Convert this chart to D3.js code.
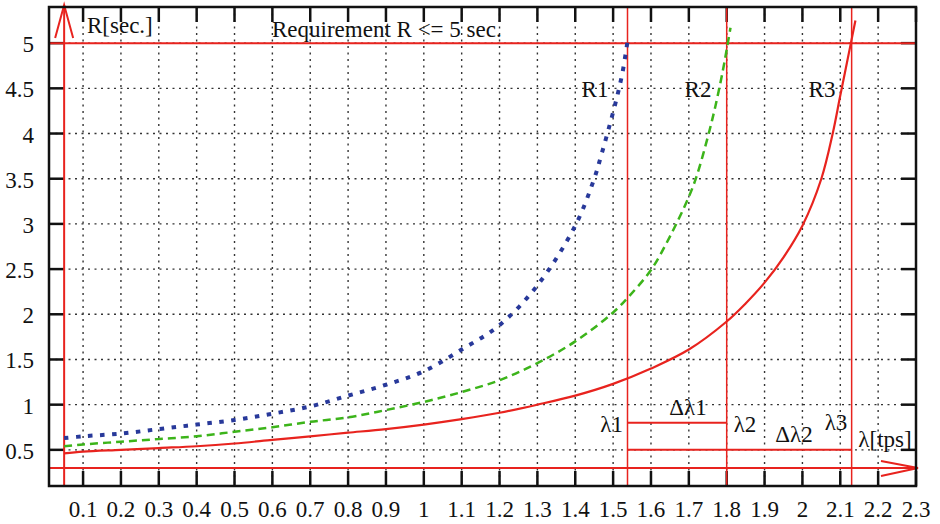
<!DOCTYPE html>
<meta charset="utf-8">
<style>

body {
  margin: 0;
  overflow: hidden;
  background: #fff;
}
text {
  font-family: "Liberation Serif", "DejaVu Serif", serif;
  font-size: 23px;
  fill: #111;
}
.grid line {
  stroke: #333;
  stroke-width: 1.4;
  stroke-dasharray: 2,4.5;
}
.frame {
  fill: none;
  stroke: #111;
  stroke-width: 2.5;
}
.ticks line {
  stroke: #111;
  stroke-width: 2.5;
}
.red {
  stroke: #e8231e;
  fill: none;
}

</style>
<svg id="svg" width="940" height="524"></svg>
<script src="https://d3js.org/d3.v7.min.js"></script>
<script>

// x ticks (lambda, tps) and y ticks (R, sec)
var xTicks = [0.1,0.2,0.3,0.4,0.5,0.6,0.7,0.8,0.9,1,1.1,1.2,1.3,1.4,1.5,1.6,1.7,1.8,1.9,2,2.1,2.2,2.3];
var yTicks = [0.5,1,1.5,2,2.5,3,3.5,4,4.5,5];

// curves
var r1X = [0.05,0.1,0.2,0.3,0.4,0.5,0.6,0.7,0.8,0.9,1.0,1.1,1.2,1.3,1.4,1.45,1.47,1.49,1.51,1.525,1.538];
var r1Y = [0.63,0.65,0.68,0.73,0.78,0.83,0.90,0.98,1.10,1.22,1.37,1.61,1.88,2.32,2.98,3.5,3.78,4.08,4.40,4.68,5.02];

var r2X = [0.05,0.1,0.2,0.3,0.4,0.5,0.6,0.7,0.8,0.9,1.0,1.1,1.2,1.3,1.4,1.5,1.54,1.6,1.65,1.7,1.72,1.75,1.77,1.79,1.8,1.81];
var r2Y = [0.54,0.56,0.59,0.62,0.65,0.70,0.75,0.81,0.86,0.94,1.03,1.14,1.27,1.46,1.70,2.02,2.19,2.49,2.86,3.30,3.52,3.96,4.30,4.70,4.93,5.17];

var r3X = [0.05,0.1,0.2,0.3,0.4,0.5,0.6,0.7,0.8,0.9,1.0,1.1,1.2,1.3,1.4,1.5,1.6,1.7,1.8,1.85,1.9,1.95,2.0,2.05,2.08,2.10,2.128,2.14];
var r3Y = [0.46,0.48,0.50,0.52,0.54,0.57,0.61,0.65,0.69,0.73,0.78,0.84,0.91,1.00,1.10,1.23,1.40,1.61,1.92,2.12,2.35,2.63,2.98,3.50,4.00,4.42,5.00,5.25];

// annotations
var requirement = 5;
var lambdas = [1.538, 1.80, 2.13];
var axisOrigin = [0.05, 0.3];
var seg1Y = 0.8, seg2Y = 0.5;

var svg = d3.select("svg"),
    margin = {top: 7, right: 24, bottom: 38, left: 49},
    width = +svg.attr("width") - margin.left - margin.right,
    height = +svg.attr("height") - margin.top - margin.bottom;

var g = svg.append("g").attr("transform", "translate(" + margin.left + "," + margin.top + ")");

var x = d3.scaleLinear().domain([0.01, 2.3]).range([0, width]);
var y = d3.scaleLinear().domain([0.1, 5.4]).range([height, 0]);

// grid
var grid = g.append("g").attr("class", "grid");
grid.selectAll(".gx")
    .data(xTicks.filter(function(d) { return d < 2.3; }))
  .enter().append("line")
    .attr("x1", function(d) { return x(d); })
    .attr("x2", function(d) { return x(d); })
    .attr("y1", 0)
    .attr("y2", height);
grid.selectAll(".gy")
    .data(yTicks)
  .enter().append("line")
    .attr("x1", 0)
    .attr("x2", width)
    .attr("y1", function(d) { return y(d); })
    .attr("y2", function(d) { return y(d); });

// inward ticks on all four sides
var ticks = g.append("g").attr("class", "ticks");
var tl = 15;
xTicks.forEach(function(d) {
  ticks.append("line").attr("x1", x(d)).attr("x2", x(d)).attr("y1", height).attr("y2", height - tl);
  ticks.append("line").attr("x1", x(d)).attr("x2", x(d)).attr("y1", 0).attr("y2", tl);
});
yTicks.forEach(function(d) {
  ticks.append("line").attr("x1", 0).attr("x2", tl).attr("y1", y(d)).attr("y2", y(d));
  ticks.append("line").attr("x1", width).attr("x2", width - tl).attr("y1", y(d)).attr("y2", y(d));
});

// tick labels
g.append("g").selectAll("text")
    .data(xTicks)
  .enter().append("text")
    .attr("x", function(d) { return x(d); })
    .attr("y", height + 31)
    .attr("text-anchor", "middle")
    .text(function(d) { return d; });

g.append("g").selectAll("text")
    .data(yTicks)
  .enter().append("text")
    .attr("x", -15)
    .attr("y", function(d) { return y(d) + 9; })
    .attr("text-anchor", "end")
    .text(function(d) { return d; });

// red annotation lines
var red = g.append("g");

red.append("line").attr("class", "red").attr("stroke-width", 2)
    .attr("x1", 0).attr("x2", width)
    .attr("y1", y(requirement)).attr("y2", y(requirement));

red.selectAll(".lam")
    .data(lambdas)
  .enter().append("line")
    .attr("class", "red")
    .attr("stroke-width", 1.5)
    .attr("x1", function(d) { return x(d); })
    .attr("x2", function(d) { return x(d); })
    .attr("y1", 0)
    .attr("y2", height);

red.append("line").attr("class", "red").attr("stroke-width", 2)
    .attr("x1", x(lambdas[0])).attr("x2", x(lambdas[1]))
    .attr("y1", y(seg1Y)).attr("y2", y(seg1Y));
red.append("line").attr("class", "red").attr("stroke-width", 2)
    .attr("x1", x(lambdas[0])).attr("x2", x(lambdas[2]))
    .attr("y1", y(seg2Y)).attr("y2", y(seg2Y));

// axes with arrows
var ox = x(axisOrigin[0]), oy = y(axisOrigin[1]);
red.append("line").attr("class", "red").attr("stroke-width", 2)
    .attr("x1", ox).attr("x2", ox).attr("y1", height).attr("y2", -2);
red.append("path").attr("class", "red").attr("stroke-width", 2)
    .attr("d", "M" + (ox - 9) + "," + 31 + "L" + ox + "," + (-2) + "L" + (ox + 9) + "," + 31);
red.append("line").attr("class", "red").attr("stroke-width", 2)
    .attr("x1", 0).attr("x2", width + 2).attr("y1", oy).attr("y2", oy);
red.append("path").attr("class", "red").attr("stroke-width", 2)
    .attr("d", "M" + (width - 35) + "," + (oy - 7) + "L" + (width + 2) + "," + oy + "L" + (width - 35) + "," + (oy + 8));

// curves
var line = d3.line()
    .x(function(d) { return x(d[0]); })
    .y(function(d) { return y(d[1]); })
    .curve(d3.curveCatmullRom.alpha(0.5));

function pairs(xs, ys) { return xs.map(function(v, i) { return [v, ys[i]]; }); }

g.append("path")
    .datum(pairs(r3X, r3Y))
    .attr("fill", "none")
    .attr("stroke", "#e8231e")
    .attr("stroke-width", 2.2)
    .attr("d", line);

g.append("path")
    .datum(pairs(r2X, r2Y))
    .attr("fill", "none")
    .attr("stroke", "#3cb41a")
    .attr("stroke-width", 2.5)
    .attr("stroke-dasharray", "8,5")
    .attr("d", line);

g.append("path")
    .datum(pairs(r1X, r1Y))
    .attr("fill", "none")
    .attr("stroke", "#28399a")
    .attr("stroke-width", 4)
    .attr("stroke-dasharray", "4.5,7.5")
    .attr("d", line);

// frame
g.append("rect").attr("class", "frame")
    .attr("x", 0).attr("y", 0).attr("width", width).attr("height", height);

// text labels (positions in page pixels)
svg.append("text").attr("x", 87).attr("y", 33).text("R[sec.]");
svg.append("text").attr("x", 272).attr("y", 37).text("Requirement R <= 5 sec.");
svg.append("text").attr("x", 595).attr("y", 97).attr("text-anchor", "middle").text("R1");
svg.append("text").attr("x", 698).attr("y", 97).attr("text-anchor", "middle").text("R2");
svg.append("text").attr("x", 822).attr("y", 97).attr("text-anchor", "middle").text("R3");
svg.append("text").attr("x", 623).attr("y", 432).attr("text-anchor", "end").text("λ1");
svg.append("text").attr("x", 688).attr("y", 415).attr("text-anchor", "middle").text("Δλ1");
svg.append("text").attr("x", 745).attr("y", 432).attr("text-anchor", "middle").text("λ2");
svg.append("text").attr("x", 794).attr("y", 442).attr("text-anchor", "middle").text("Δλ2");
svg.append("text").attr("x", 836).attr("y", 430).attr("text-anchor", "middle").text("λ3");
svg.append("text").attr("x", 885).attr("y", 447).attr("text-anchor", "middle").text("λ[tps]");

</script>
